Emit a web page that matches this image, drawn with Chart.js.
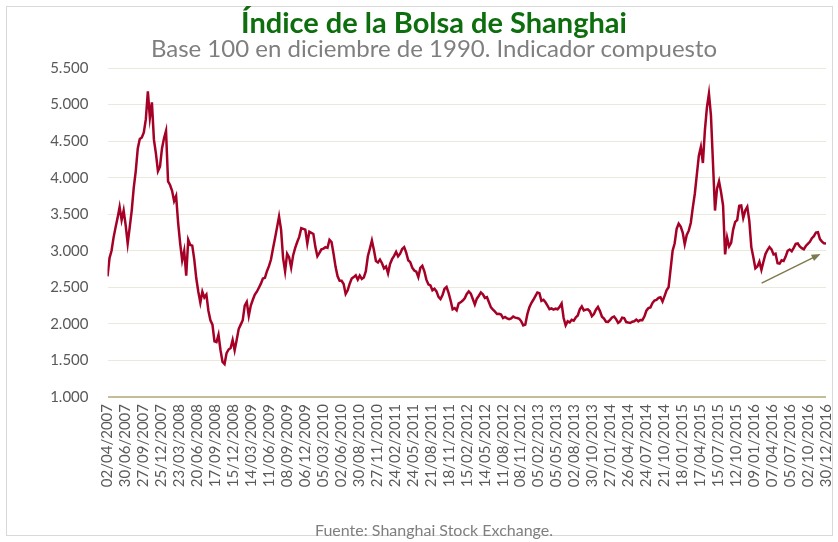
<!DOCTYPE html>
<html lang="es">
<head>
<meta charset="utf-8">
<title>Índice de la Bolsa de Shanghai</title>
<script src="https://cdn.jsdelivr.net/npm/chart.js@4.4.1/dist/chart.umd.min.js"></script>
<style>
  html, body { margin: 0; padding: 0; background: #fff; }
  body { width: 838px; height: 542px; position: relative; overflow: hidden; font-family: Lato, "Open Sans", sans-serif; }
  #marco { position: absolute; left: 6px; top: 6px; width: 827px; height: 530px; border: 1px solid #d9d9d9; box-sizing: border-box; }
  #grafico { position: absolute; left: 0; top: 0; }
  .texto { position: absolute; left: 0; width: 868px; text-align: center; white-space: nowrap; }
  #titulo { top: 4px; font-size: 29px; font-weight: bold; color: #0d6e0d; }
  #subtitulo { top: 33px; font-size: 24px; color: #7f7f7f; }
  #fuente { top: 520px; font-size: 16px; color: #7f7f7f; }
</style>
</head>
<body>
<div id="marco"></div>
<canvas id="grafico" width="838" height="542"></canvas>
<div class="texto" id="titulo">Índice de la Bolsa de Shanghai</div>
<div class="texto" id="subtitulo">Base 100 en diciembre de 1990. Indicador compuesto</div>
<div class="texto" id="fuente">Fuente: Shanghai Stock Exchange.</div>
<script>
// Serie: un valor cada 10 días desde el 02/04/2007 (día 0) hasta el 30/12/2016 (día 3560)
const pasoDias = 10;
const valores = [
  2650, 2900, 3000, 3180, 3320, 3450, 3600, 3420, 3550, 3350,
  3100, 3320, 3550, 3860, 4090, 4400, 4530, 4550, 4620, 4800,
  5180, 4820, 5030, 4520, 4330, 4090, 4150, 4400, 4540, 4640,
  3950, 3900, 3820, 3680, 3750, 3380, 3100, 2870, 3000, 2660,
  3150, 3080, 3070, 2880, 2620, 2440, 2290, 2440, 2360, 2400,
  2180, 2050, 1990, 1760, 1750, 1850, 1640, 1480, 1450, 1600,
  1650, 1670, 1780, 1640, 1780, 1930, 1990, 2050, 2250, 2300,
  2110, 2250, 2330, 2400, 2440, 2495, 2550, 2620, 2630, 2720,
  2790, 2880, 3030, 3170, 3320, 3470, 3290, 2900, 2720, 2960,
  2910, 2770, 2940, 3040, 3120, 3190, 3310, 3300, 3290, 3100,
  3260, 3245, 3230, 3050, 2925, 2970, 3020, 3030, 3050, 3040,
  3150, 3120, 2960, 2780, 2650, 2590, 2590, 2545, 2410, 2460,
  2550, 2620, 2640, 2665, 2605, 2660, 2615, 2635, 2720, 2925,
  3030, 3140, 3010, 2860, 2840, 2880, 2830, 2760, 2785, 2690,
  2820, 2885, 2930, 2985, 2925, 2960, 3025, 3050, 2975, 2870,
  2845, 2770, 2730, 2715, 2640, 2765, 2795, 2720, 2605, 2540,
  2525, 2460, 2480, 2445, 2370, 2340, 2395, 2480, 2505, 2425,
  2320, 2200, 2215, 2185, 2280, 2295, 2320, 2350, 2410, 2445,
  2415, 2340, 2265, 2345, 2385, 2430, 2405, 2355, 2365, 2295,
  2225, 2195, 2168, 2135, 2138, 2128, 2079, 2095, 2075, 2065,
  2075, 2100, 2085, 2080, 2070, 2035, 1980, 1990, 2130, 2225,
  2285, 2330, 2380, 2430, 2420, 2315, 2330, 2295, 2250, 2200,
  2212, 2195, 2208, 2200, 2232, 2280, 2080, 1980, 2035, 2020,
  2056, 2045, 2088, 2115, 2200, 2238, 2185, 2195, 2200, 2172,
  2105, 2135, 2195, 2232, 2175, 2098, 2072, 2030, 2028, 2056,
  2088, 2100, 2065, 2015, 2035, 2085, 2080, 2025, 2018, 2012,
  2030, 2035, 2058, 2035, 2054, 2052, 2100, 2180, 2215, 2225,
  2285, 2320, 2329, 2355, 2365, 2305, 2380, 2460, 2500, 2750,
  3000, 3100, 3300, 3370, 3330, 3250, 3090, 3217, 3275, 3380,
  3590, 3780, 4040, 4300, 4420, 4200, 4650, 4960, 5150, 4850,
  4200, 3550, 3850, 3950, 3800, 3620, 2950, 3180, 3060, 3110,
  3290, 3395, 3420, 3615, 3620, 3450, 3550, 3600, 3410, 3050,
  2910, 2760, 2785, 2850, 2740, 2850, 2955, 3010, 3050, 3020,
  2950, 2960, 2830, 2825, 2870, 2860, 2920, 3000, 3018, 2992,
  3040, 3095, 3100, 3060, 3035, 3020, 3065, 3095, 3122, 3172,
  3200, 3250, 3255, 3160, 3125, 3103, 3100
];

// Etiquetas del eje X, una cada 89 días
const pasoEtiquetas = 89;
const etiquetasX = [
  '02/04/2007', '30/06/2007', '27/09/2007', '25/12/2007', '23/03/2008', '20/06/2008',
  '17/09/2008', '15/12/2008', '14/03/2009', '11/06/2009', '08/09/2009', '06/12/2009',
  '05/03/2010', '02/06/2010', '30/08/2010', '27/11/2010', '24/02/2011', '24/05/2011',
  '21/08/2011', '18/11/2011', '15/02/2012', '14/05/2012', '11/08/2012', '08/11/2012',
  '05/02/2013', '05/05/2013', '02/08/2013', '30/10/2013', '27/01/2014', '26/04/2014',
  '24/07/2014', '21/10/2014', '18/01/2015', '17/04/2015', '15/07/2015', '12/10/2015',
  '09/01/2016', '07/04/2016', '05/07/2016', '02/10/2016', '30/12/2016'
];

// Eje Y
const yMin = 1000, yMax = 5500, yPaso = 500;

// Flecha de tendencia (día, valor)
const flechaDesde = [3241, 2557];
const flechaHasta = [3533, 2957];

const colorLinea = '#a50026';
const colorFlecha = '#7f7a4c';

function miles(v) {
  return String(v).replace(/\B(?=(\d{3})+(?!\d))/g, '.');
}

/**
 * Dibuja la flecha de tendencia
 */
const pluginFlecha = {
  id: 'flecha',
  afterDatasetsDraw(chart) {
    const { ctx, scales: { x, y } } = chart;
    const x0 = x.getPixelForValue(flechaDesde[0]);
    const y0 = y.getPixelForValue(flechaDesde[1]);
    const x1 = x.getPixelForValue(flechaHasta[0]);
    const y1 = y.getPixelForValue(flechaHasta[1]);
    const ang = Math.atan2(y1 - y0, x1 - x0);
    const largo = 9, ancho = 3.5;

    ctx.save();
    ctx.strokeStyle = colorFlecha;
    ctx.fillStyle = colorFlecha;
    ctx.lineWidth = 1.5;
    ctx.beginPath();
    ctx.moveTo(x0, y0);
    ctx.lineTo(x1 - Math.cos(ang) * largo * 0.6, y1 - Math.sin(ang) * largo * 0.6);
    ctx.stroke();
    ctx.beginPath();
    ctx.moveTo(x1, y1);
    ctx.lineTo(x1 - Math.cos(ang) * largo + Math.sin(ang) * ancho, y1 - Math.sin(ang) * largo - Math.cos(ang) * ancho);
    ctx.lineTo(x1 - Math.cos(ang) * largo - Math.sin(ang) * ancho, y1 - Math.sin(ang) * largo + Math.cos(ang) * ancho);
    ctx.closePath();
    ctx.fill();
    ctx.restore();
  }
};

const ctx = document.getElementById('grafico');
new Chart(ctx, {
  type: 'line',
  data: {
    datasets: [{
      label: 'Índice compuesto',
      data: valores.map((v, i) => ({ x: i * pasoDias, y: v })),
      borderColor: colorLinea,
      borderWidth: 2.5,
      pointRadius: 0,
      tension: 0,
      fill: false
    }]
  },
  options: {
    responsive: false,
    animation: false,
    devicePixelRatio: 1,
    layout: { padding: { top: 68, right: 12, bottom: 0, left: 0 } },
    plugins: {
      legend: { display: false },
      tooltip: { enabled: false }
    },
    scales: {
      x: {
        type: 'linear',
        min: 0,
        max: (etiquetasX.length - 1) * pasoEtiquetas,
        grid: { display: false, drawTicks: false },
        border: { display: false },
        afterBuildTicks: (scale) => {
          scale.ticks = etiquetasX.map((_, i) => ({ value: i * pasoEtiquetas }));
        },
        afterFit: (scale) => {
          scale.height = 145;
          scale.paddingLeft = 0;
          scale.paddingRight = 0;
        },
        ticks: {
          autoSkip: false,
          minRotation: 90,
          maxRotation: 90,
          padding: 7,
          color: '#595959',
          font: { family: 'Lato', size: 15 },
          callback: (value, index) => etiquetasX[index]
        }
      },
      y: {
        min: yMin,
        max: yMax,
        grid: {
          drawTicks: false,
          color: (c) => c.tick && c.tick.value === yMin ? '#c4bd97' : '#ebe9dc',
          lineWidth: (c) => c.tick && c.tick.value === yMin ? 2 : 1
        },
        border: { display: false },
        afterFit: (scale) => { scale.width = 107.5; },
        ticks: {
          stepSize: yPaso,
          padding: 19,
          color: '#595959',
          font: { family: 'Lato', size: 15 },
          callback: (v) => miles(v)
        }
      }
    }
  },
  plugins: [pluginFlecha]
});
</script>
</body>
</html>
